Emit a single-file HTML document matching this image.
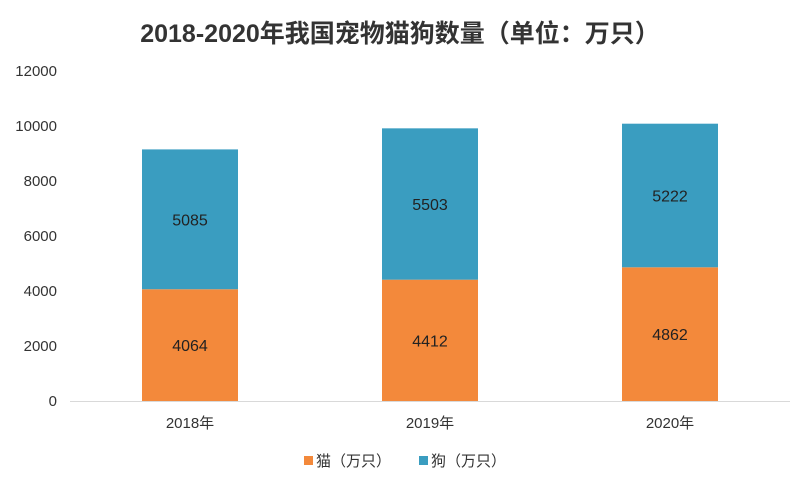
<!DOCTYPE html>
<html><head><meta charset="utf-8">
<style>
body{margin:0;background:#fff;}
svg text{font-family:"Liberation Sans","Noto Sans CJK SC",sans-serif;}
</style></head>
<body>
<svg width="800" height="485" viewBox="0 0 800 485" xmlns="http://www.w3.org/2000/svg">
<rect width="800" height="485" fill="#fff"/>
<text x="400" y="42" text-anchor="middle" font-size="25" font-weight="bold" fill="#333">2018-2020年我国宠物猫狗数量（单位：万只）</text>
<g id="yaxis"></g>
<g id="bars"></g>
<g id="xaxis"></g>
<g>
<rect x="304" y="456" width="9" height="9" fill="#F3893B"/>
<text x="316" y="466" font-size="15" fill="#333">猫（万只）</text>
<rect x="419" y="456" width="9" height="9" fill="#3A9DC0"/>
<text x="431" y="466" font-size="15" fill="#333">狗（万只）</text>
</g>
</svg>
<script>
const categories=["2018年","2019年","2020年"];
const catValues=[4064,4412,4862];
const dogValues=[5085,5503,5222];
const yTicks=[0,2000,4000,6000,8000,10000,12000];
const ns="http://www.w3.org/2000/svg";
const y0=401,yTop=71,yMax=12000,plotL=70,plotR=790;
const y=v=>y0-(v/yMax)*(y0-yTop);
const band=(plotR-plotL)/categories.length;
const xc=i=>plotL+band*(i+0.5);
const bw=96;
function mk(t,a,p){const e=document.createElementNS(ns,t);for(const k in a)e.setAttribute(k,a[k]);p.appendChild(e);return e;}
const ya=document.getElementById('yaxis');
yTicks.forEach(v=>{
 const t=mk('text',{x:57,y:y(v)+5,'text-anchor':'end','font-size':'15',fill:'#333'},ya);
 
 
 t.textContent=v;
});
const bars=document.getElementById('bars');
categories.forEach((c,i)=>{
 const x=xc(i)-bw/2;
 const r1=mk('rect',{x:x,y:y(catValues[i]),width:bw,height:y0-y(catValues[i]),fill:'#F3893B'},bars);
 
 
 const top=catValues[i]+dogValues[i];
 const r2=mk('rect',{x:x,y:y(top),width:bw,height:y(catValues[i])-y(top),fill:'#3A9DC0'},bars);
 
 
 const l1=mk('text',{x:xc(i),y:(y(catValues[i])+y0)/2+6,'text-anchor':'middle','font-size':'16',fill:'#222'},bars);
 
 
 l1.textContent=catValues[i];
 const l2=mk('text',{x:xc(i),y:(y(top)+y(catValues[i]))/2+6,'text-anchor':'middle','font-size':'16',fill:'#222'},bars);
 
 
 l2.textContent=dogValues[i];
});
const xa=document.getElementById('xaxis');
const ax=mk('line',{x1:plotL,x2:plotR,y1:y0+0.5,y2:y0+0.5,stroke:'#d9d9d9','stroke-width':1},xa);


categories.forEach((c,i)=>{
 const t=mk('text',{x:xc(i),y:428,'text-anchor':'middle','font-size':'15',fill:'#333'},xa);
 
 
 t.textContent=c;
});
</script>
</body></html>
